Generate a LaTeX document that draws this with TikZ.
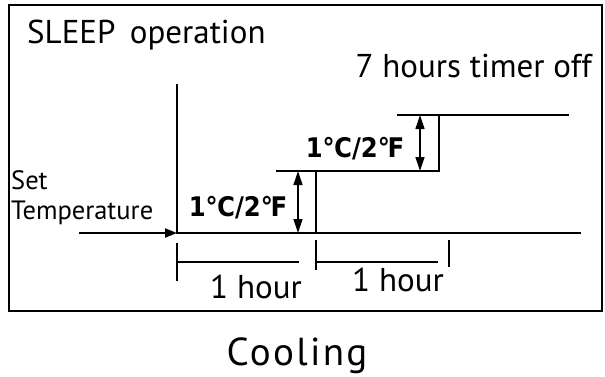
\documentclass[tikz,border=0pt]{standalone}
\usepackage{fontspec}
\setmainfont{PT Sans}
\newfontfamily\degfont{DejaVu Sans Condensed}
\usetikzlibrary{positioning,arrows.meta}

\begin{document}
\begin{tikzpicture}[x=1pt,y=-1pt,
        line/.style={line width=2.1pt},
        thinline/.style={line width=1.4pt},
        dim/.style={{Triangle[length=14pt,width=9pt]}-{Triangle[length=14pt,width=9pt]},
                    line width=1.3pt},
        lbl/.style={font=\fontsize{33}{38}\selectfont, inner sep=0pt},
        small/.style={font=\fontsize{26.5}{30}\selectfont, inner sep=0pt, align=left},
        delta/.style={font=\degfont\bfseries\fontsize{27}{30}\selectfont, inner sep=0pt},
        title/.style={font=\fontsize{39}{44}\selectfont\addfontfeature{LetterSpace=6}, inner sep=0pt}
      ]
        \useasboundingbox (0,0) rectangle (605,376);
        \draw[line] (9,5) rectangle (602,311);
        % axes
        \coordinate (o)    at (177,233);
        \coordinate (ytop) at (177,84);
        \coordinate (xend) at (581,233);
        \coordinate (in)   at (79,233);
        % steps
        \coordinate (s1b) at (316,233);
        \coordinate (s1t) at (316,171);
        \coordinate (s1l) at (276,171);
        \coordinate (s2b) at (439,171);
        \coordinate (s2t) at (439,115);
        \coordinate (s2l) at (397,115);
        \coordinate (s2r) at (569,115);
        \draw[line] (ytop) -- (o) -- (xend);
        \draw[line, -{Triangle[length=12pt,width=9pt]}] (in) -- (o);
        \draw[line] (s1b) -- (s1t) -- (s2b) -- (s2t) -- (s2r);
        \draw[thinline] (s1l) -- (s1t);
        \draw[thinline] (s2l) -- (s2t);
        % step heights
        \coordinate (d1b) at (298,233);
        \coordinate (d1t) at (298,171);
        \coordinate (d2b) at (420,171);
        \coordinate (d2t) at (420,115);
        \draw[dim] (d1b) -- (d1t);
        \draw[dim] (d2b) -- (d2t);
        \node[delta] (dt1) at (238,208) {1℃/2℉};
        \node[delta] (dt2) at (355,149) {1℃/2℉};
        % one hour spans
        \coordinate (t1a) at (177,243);
        \coordinate (t1b) at (177,281);
        \coordinate (t2a) at (316,240);
        \coordinate (t2b) at (316,270);
        \coordinate (t3a) at (449,240);
        \coordinate (t3b) at (449,267);
        \draw[thinline] (t1a) -- (t1b);
        \draw[thinline] (t2a) -- (t2b);
        \draw[thinline] (t3a) -- (t3b);
        \coordinate (h1r) at (299,262);
        \coordinate (h2r) at (438,262);
        \draw[thinline] (177,262) -- (h1r);
        \draw[thinline] (316,262) -- (h2r);
        \node[lbl] (hr1) at (256,287) {1 hour};
        \node[lbl] (hr2) at (398,280) {1 hour};
        % texts
        \node[lbl, anchor=base west] (sleep) at (27,43) {SLEEP\, operation};
        \node[lbl, anchor=base east] (timer) at (592,77) {7 hours timer off};
        \node[small, anchor=north west] (set) at (11,170) {Set\\Temperature};
        \node[title, anchor=base] (cool) at (297,365) {Cooling};
      \end{tikzpicture}
\end{document}
